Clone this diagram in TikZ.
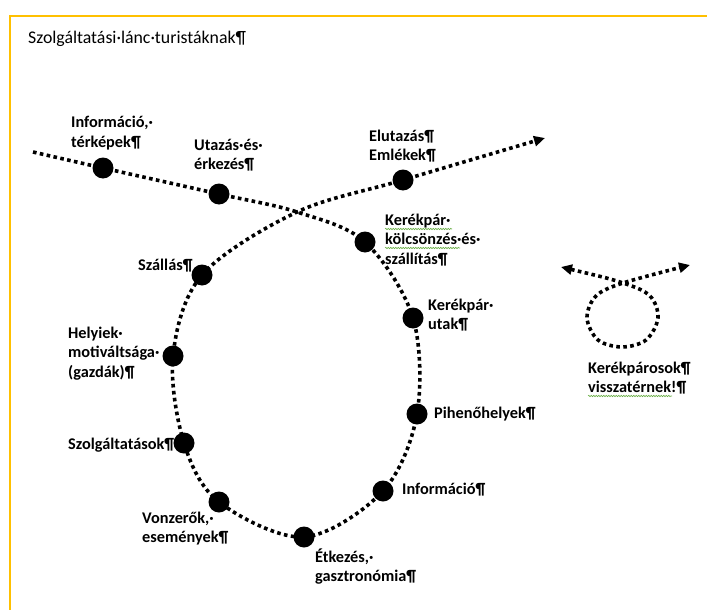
\documentclass[tikz,border=0pt]{standalone}
\usepackage{fontspec}
\setmainfont{Carlito}
\usetikzlibrary{arrows.meta,decorations.pathmorphing}
\definecolor{frameyellow}{HTML}{FFC000}
\definecolor{spellgreen}{HTML}{6AAE47}
\begin{document}
\begin{tikzpicture}[x=1pt,y=-1pt,
  chainline/.style={line width=3.6pt, dash pattern=on 3.6pt off 3.4pt},
  station/.style={circle, fill=black, inner sep=0pt, minimum size=21pt},
  lbl/.style={anchor=base west, inner sep=0pt, font=\bfseries\fontsize{16.3}{19.5}\selectfont},
  spell/.style={spellgreen, line width=0.6pt, decorate, decoration={snake, amplitude=0.7pt, segment length=2.5pt}},
  tip/.style={-{Triangle[length=11pt,width=10pt]}}
]
\useasboundingbox (0,0) rectangle (707,610);
\draw[frameyellow, line width=2pt] (9.5,610) -- (9.5,16) -- (707,16);

\node[anchor=base west, inner sep=0pt, font=\fontsize{17.8}{21}\selectfont] (title) at (28,44) {Szolgáltatási·lánc·turistáknak¶};

% coordinates of the main chain
\coordinate (s)  at (33,152);
\coordinate (p1) at (103,168);
\coordinate (p2) at (219,194);
\coordinate (x)  at (297,212);
\coordinate (p4) at (365,242);
\coordinate (p10) at (413,318);
\coordinate (p11) at (417,414);
\coordinate (p12) at (383,491);
\coordinate (p9) at (304,537);
\coordinate (p8) at (219,502);
\coordinate (p7) at (184,443);
\coordinate (p6) at (173,356);
\coordinate (p5) at (202,275);
\coordinate (p3) at (403,180);
\coordinate (e)  at (545,138);

\draw[chainline, tip] plot[smooth, tension=0.55] coordinates {(s) (p1) (p2) (x) (p4) (p10) (p11) (p12) (p9) (p8) (p7) (p6) (p5) (x) (p3) (e)};

\foreach \n in {p1,p2,p3,p4,p5,p6,p7,p8,p9,p10,p11,p12}
  \node[station] (d\n) at (\n) {};

% small loop
\coordinate (a1) at (561,267);
\coordinate (c)  at (623,283);
\coordinate (a2) at (690,265);
\draw[chainline, {Triangle[length=11pt,width=10pt]}-{Triangle[length=11pt,width=10pt]}] plot[smooth, tension=0.55] coordinates {(a1) (c) (650,296) (658,318) (646,340) (622,347) (598,340) (587,318) (596,296) (c) (a2)};

% labels
\node[lbl] (l1) at (71,128) {\vtop{\hbox{Információ,·}\hbox{térképek¶}}};
\node[lbl] (l2) at (194,150) {\vtop{\hbox{Utazás·és·}\hbox{érkezés¶}}};
\node[lbl] (l3) at (369,141) {\vtop{\hbox{Elutazás¶}\hbox{Emlékek¶}}};
\node[lbl] (l4) at (385,225) {\vtop{\hbox{Kerékpár·}\hbox{kölcsönzés·és·}\hbox{szállítás¶}}};
\node[lbl] (l5) at (138,270) {Szállás¶};
\node[lbl] (l6) at (68,338) {\vtop{\hbox{Helyiek·}\hbox{motiváltsága·}\hbox{(gazdák)¶}}};
\node[lbl] (l7) at (68,449) {Szolgáltatások¶};
\node[lbl] (l8) at (142,523) {\vtop{\hbox{Vonzerők,·}\hbox{események¶}}};
\node[lbl] (l9) at (315,562) {\vtop{\hbox{Étkezés,·}\hbox{gasztronómia¶}}};
\node[lbl] (l10) at (428,310) {\vtop{\hbox{Kerékpár·}\hbox{utak¶}}};
\node[lbl] (l11) at (434,418) {Pihenőhelyek¶};
\node[lbl] (l12) at (402,494) {Információ¶};
\node[lbl] (l13) at (588,373) {\vtop{\hbox{Kerékpárosok¶}\hbox{visszatérnek!¶}}};

% spell-check underlines
\draw[spell] (385,229) -- (452,229);
\draw[spell] (385,248) -- (460,248);
\draw[spell] (588,396) -- (672,396);
\end{tikzpicture}
\end{document}
